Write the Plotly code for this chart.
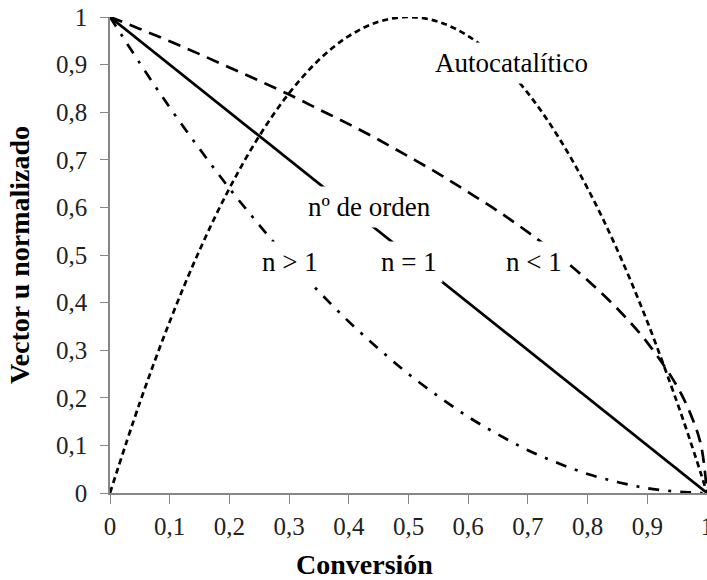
import plotly.graph_objects as go

# Conversion values (x axis)
conversion = [0, 0.05, 0.1, 0.15, 0.2, 0.25, 0.3, 0.35, 0.4, 0.45, 0.5,
              0.55, 0.6, 0.65, 0.7, 0.75, 0.8, 0.85, 0.9, 0.95, 0.975, 0.99, 1]

# n = 1 (solid)
u_n_eq_1 = [1, 0.95, 0.90, 0.85, 0.80, 0.75, 0.70, 0.65, 0.60, 0.55, 0.50,
            0.45, 0.40, 0.35, 0.30, 0.25, 0.20, 0.15, 0.10, 0.05, 0.025, 0.01, 0]
# n > 1 (dash-dot)
u_n_gt_1 = [1, 0.903, 0.810, 0.723, 0.640, 0.563, 0.490, 0.423, 0.360, 0.303, 0.250,
            0.203, 0.160, 0.123, 0.090, 0.063, 0.040, 0.023, 0.010, 0.003, 0.001, 0.000, 0]
# n < 1 (long dashes)
u_n_lt_1 = [1, 0.975, 0.949, 0.922, 0.894, 0.866, 0.837, 0.806, 0.775, 0.742, 0.707,
            0.671, 0.632, 0.592, 0.548, 0.500, 0.447, 0.387, 0.316, 0.224, 0.158, 0.100, 0]
# Autocatalytic (short dashes)
u_auto = [0, 0.190, 0.360, 0.510, 0.640, 0.750, 0.840, 0.910, 0.960, 0.990, 1.000,
          0.990, 0.960, 0.910, 0.840, 0.750, 0.640, 0.510, 0.360, 0.190, 0.098, 0.040, 0]

tick_vals = [0, 0.1, 0.2, 0.3, 0.4, 0.5, 0.6, 0.7, 0.8, 0.9, 1]
tick_text = ["0", "0,1", "0,2", "0,3", "0,4", "0,5", "0,6", "0,7", "0,8", "0,9", "1"]

FONT = "Liberation Serif"

fig = go.Figure()
fig.add_trace(go.Scatter(x=conversion, y=u_auto, mode="lines", line_shape="spline",
                         line=dict(color="black", width=2.7, dash="6px,4px")))
fig.add_trace(go.Scatter(x=conversion, y=u_n_lt_1, mode="lines", line_shape="spline",
                         line=dict(color="black", width=2.7, dash="13px,8px")))
fig.add_trace(go.Scatter(x=conversion, y=u_n_gt_1, mode="lines", line_shape="spline",
                         line=dict(color="black", width=2.7, dash="11px,9px,3px,9px")))
fig.add_trace(go.Scatter(x=conversion, y=u_n_eq_1, mode="lines",
                         line=dict(color="black", width=2.7)))

ann_font = dict(family=FONT, size=27, color="black")
labels = [
    ("Autocatalítico", 0.673, 0.903),
    ("nº de orden", 0.434, 0.601),
    ("n > 1", 0.302, 0.485),
    ("n = 1", 0.501, 0.485),
    ("n < 1", 0.710, 0.485),
]
for txt, xv, yv in labels:
    fig.add_annotation(x=xv, y=yv, text=txt, showarrow=False, font=ann_font,
                       bgcolor="white", borderpad=5)

# x-axis title (placed slightly left of centre as in the original)
fig.add_annotation(xref="paper", yref="paper", x=0.4255, y=-0.151,
                   xanchor="center", yanchor="middle", showarrow=False,
                   text="<b>Conversión</b>", font=dict(family=FONT, size=28, color="black"))

fig.update_layout(
    width=707, height=580,
    margin=dict(l=110, r=0, t=17, b=87),
    plot_bgcolor="white", paper_bgcolor="white",
    showlegend=False,
    font=dict(family=FONT, size=25, color="black"),
)
fig.update_xaxes(range=[0, 1], tickvals=tick_vals, ticktext=tick_text,
                 showgrid=False, zeroline=False, showline=True, linecolor="#868686",
                 linewidth=1.5, ticks="outside", ticklen=9, tickcolor="#868686",
                 ticklabeloverflow="allow", automargin=False, ticklabelstandoff=1,
                 tickfont=dict(family=FONT, size=25, color="#222"))
fig.update_yaxes(range=[0, 1], tickvals=tick_vals, ticktext=tick_text,
                 showgrid=False, zeroline=False, showline=True, linecolor="#868686",
                 linewidth=1.5, ticks="outside", ticklen=8, tickcolor="#868686",
                 automargin=False, ticklabelstandoff=8,
                 tickfont=dict(family=FONT, size=25, color="#222"),
                 title=dict(text="<b>Vector u normalizado</b>", font=dict(family=FONT, size=28, color="black"),
                            standoff=18))

fig.write_html("out.html")
